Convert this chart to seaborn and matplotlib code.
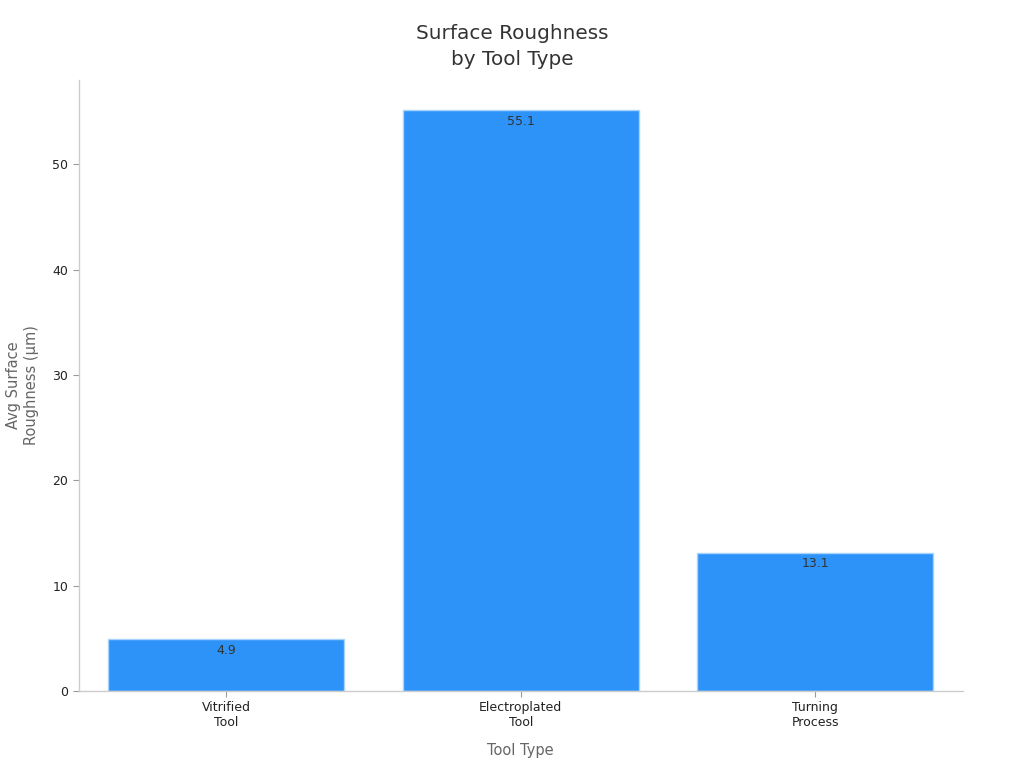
import matplotlib
matplotlib.use("Agg")
import matplotlib.pyplot as plt
import seaborn as sns
import pandas as pd

categories = ["Vitrified\nTool", "Electroplated\nTool", "Turning\nProcess"]
roughness = [4.9, 55.1, 13.1]

df = pd.DataFrame({"tool": categories, "roughness": roughness})

sns.set_theme(style="white")
plt.rcParams['font.family'] = ['DejaVu Sans']

fig = plt.figure(figsize=(10.24, 7.68), dpi=100)
ax = fig.add_axes([0.077, 0.1003, 0.863, 0.7957])

sns.barplot(data=df, x="tool", y="roughness", color="#2E93F8", saturation=1,
            width=0.8, edgecolor="#A8D4FB", linewidth=1, ax=ax)

# value labels just inside the top of each bar
for i, v in enumerate(roughness):
    ax.text(i, v - 0.4, f"{v}", ha="center", va="top", fontsize=9, color="#333333")

ax.set_xlim(-0.5, 2.5)
ax.set_ylim(0, 58)
ax.set_yticks([0, 10, 20, 30, 40, 50])
ax.tick_params(axis="both", bottom=True, left=True, labelsize=9, labelcolor="#222222",
               length=4, width=0.8, color="#999999")
ax.set_xlabel("Tool Type", fontsize=10.5, color="#666666", labelpad=10)
ax.set_ylabel("Avg Surface\nRoughness (µm)", fontsize=10.5, color="#666666", labelpad=10)

# title is centred on the figure, not the axes
fig.text(0.5, 0.969, "Surface Roughness\nby Tool Type", ha="center", va="top",
         fontsize=14.4, color="#333333", linespacing=1.45)

sns.despine(ax=ax)
for s in ["left", "bottom"]:
    ax.spines[s].set_color("#cccccc")
    ax.spines[s].set_linewidth(1)

fig.savefig("out.png", dpi=100)
